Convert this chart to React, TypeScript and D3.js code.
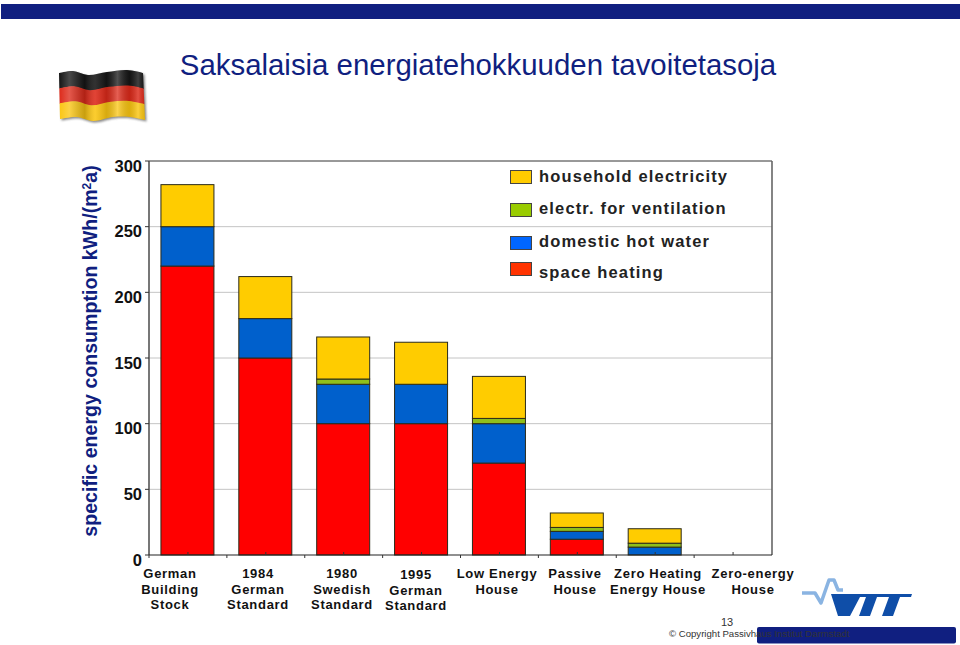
import React from "react";
import * as d3 from "d3";

const categories = [
  ["German", "Building", "Stock"],
  ["1984", "German", "Standard"],
  ["1980", "Swedish", "Standard"],
  ["1995", "German", "Standard"],
  ["Low Energy", "House"],
  ["Passive", "House"],
  ["Zero Heating", "Energy House"],
  ["Zero-energy", "House"],
];
const labelX = [170, 258, 342, 416, 497, 575, 658, 753];
const labelY = [578, 578, 578, 579, 578, 578, 578, 578];
const spaceHeating = [220, 150, 100, 100, 70, 12, 0, 0];
const hotWater = [30, 30, 30, 30, 30, 6, 6, 0];
const ventilation = [0, 0, 4, 0, 4, 3, 3, 0];
const household = [32, 32, 32, 32, 32, 11, 11, 0];
const yTicks = [0, 50, 100, 150, 200, 250, 300];
const seriesKeys = ["space", "water", "vent", "house"];
const seriesColors = ["#ff0000", "#0060cc", "#8fbf1a", "#ffcc00"];
const legendItems = [
  { label: "household electricity", color: "#ffcc00", y: 177, textY: 182 },
  { label: "electr. for ventilation", color: "#99cc00", y: 210, textY: 214 },
  { label: "domestic hot water", color: "#0066ff", y: 243, textY: 247 },
  { label: "space heating", color: "#ff3300", y: 269, textY: 278 },
];

const NAVY = "#101f80";
const x = d3.scaleBand<number>().domain(d3.range(8)).range([149, 772]).paddingInner(0).paddingOuter(0);
const y = d3.scaleLinear().domain([0, 300]).range([555, 161]);
const rows = categories.map((_, i) => ({
  i,
  space: spaceHeating[i],
  water: hotWater[i],
  vent: ventilation[i],
  house: household[i],
}));
const stacked = d3.stack<any>().keys(seriesKeys)(rows);
const barW = 53;
const font = "'Liberation Sans', Arial, sans-serif";

const flagTop: [number, number][] = [[59, 73], [73, 71], [88, 75], [107, 72], [127, 70], [143, 73]];
const flagBottom: [number, number][] = [[60, 119], [77, 117], [93, 121], [113, 117], [130, 117], [145, 120]];

function flagBand(t0: number, t1: number) {
  const mix = (t: number) =>
    flagTop.map((p, i): [number, number] => [
      p[0] + (flagBottom[i][0] - p[0]) * t,
      p[1] + (flagBottom[i][1] - p[1]) * t,
    ]);
  const curve = d3.line().curve(d3.curveCatmullRom);
  const a = curve(mix(t0))!;
  const b = curve(mix(t1).reverse())!;
  return `${a}L${b.slice(1)}Z`;
}

function Flag() {
  const stripes = [
    [0, "#fff", 0],
    [0.12, "#fff", 0.22],
    [0.3, "#000", 0.2],
    [0.42, "#fff", 0.12],
    [0.55, "#000", 0.14],
    [0.68, "#fff", 0.25],
    [0.82, "#000", 0.12],
    [0.92, "#fff", 0.18],
    [1, "#000", 0.1],
  ] as const;
  return (
    <g>
      <defs>
        <linearGradient id="sheen" x1="0" x2="1" y1="0" y2="0">
          {stripes.map((s, i) => (
            <stop key={i} offset={s[0]} stopColor={s[1]} stopOpacity={s[2]} />
          ))}
        </linearGradient>
        <filter id="soft" x="-10%" y="-10%" width="120%" height="120%">
          <feGaussianBlur stdDeviation="1" />
        </filter>
      </defs>
      <path d={flagBand(0, 1)} fill="#555" transform="translate(1.5,1.5)" filter="url(#soft)" opacity={0.7} />
      <path d={flagBand(0, 0.34)} fill="#161616" />
      <path d={flagBand(0.33, 0.67)} fill="#dd2a1a" />
      <path d={flagBand(0.66, 1)} fill="#fbc612" />
      <path d={flagBand(0, 1)} fill="url(#sheen)" />
    </g>
  );
}

function Logo() {
  return (
    <g>
      <path
        d="M802 593 L815 593 L821 603 L829 580 L834 580 L838 590 L843 590"
        fill="none"
        stroke="#8ab4e2"
        strokeWidth={3.5}
        strokeLinejoin="round"
      />
      <path
        d="M831 594 L912 594 L911 597 L900 597 L893 616 L882 616 L889 597 L877 597 L870 616 L859 616 L866 597 L860 597 L850 616 L838 616 Z"
        fill="#0f4ea8"
      />
    </g>
  );
}

export default function App() {
  return (
    <svg
      width={960}
      height={645}
      viewBox="0 0 960 645"
      style={{ position: "absolute", left: 0, top: 0, background: "#fff" }}
      fontFamily={font}
    >
      <rect x={1} y={4} width={959} height={15} fill={NAVY} />
      <text x={478} y={74.5} textAnchor="middle" fontSize={29.4} fill={NAVY}>
        Saksalaisia energiatehokkuuden tavoitetasoja
      </text>
      <Flag />

      <text
        transform="translate(97,351) rotate(-90)"
        textAnchor="middle"
        fontSize={19.6}
        fontWeight="bold"
        fill={NAVY}
      >
        specific energy consumption kWh/(m
        <tspan fontSize={12} dy={-6}>2</tspan>
        <tspan dy={6}>a)</tspan>
      </text>

      {yTicks.filter((t) => t > 0 && t < 300).map((t) => (
        <line key={t} x1={149} x2={772} y1={y(t)} y2={y(t)} stroke="#c4c4c4" strokeWidth={1} />
      ))}

      {stacked.map((s, k) =>
        s.map((d, i) =>
          d[1] - d[0] > 0 ? (
            <rect
              key={`${k}-${i}`}
              x={x(i)! + (x.bandwidth() - barW) / 2 - 0.5}
              y={y(d[1])}
              width={barW}
              height={y(d[0]) - y(d[1])}
              fill={seriesColors[k]}
              stroke="#2a2a1a"
              strokeWidth={1}
            />
          ) : null
        )
      )}

      <line x1={149} x2={772} y1={161} y2={161} stroke="#333" strokeWidth={1} />
      <line x1={149} x2={149} y1={161} y2={555} stroke="#555" strokeWidth={1.6} />
      <line x1={772} x2={772} y1={161} y2={555} stroke="#666" strokeWidth={1.6} />
      <line x1={149} x2={772} y1={555} y2={555} stroke="#222" strokeWidth={1.2} />
      {yTicks.map((t) => (
        <line key={t} x1={145} x2={149} y1={y(t)} y2={y(t)} stroke="#333" />
      ))}
      {d3.range(8).map((i) => (
        <g key={i} stroke="#333">
          <line x1={x(i)!} x2={x(i)!} y1={555} y2={558} />
          <line x1={x(i)! + x.bandwidth() / 2} x2={x(i)! + x.bandwidth() / 2} y1={552} y2={555} />
        </g>
      ))}

      {yTicks.map((t) => (
        <text key={t} x={142} y={y(t) + 10.5} textAnchor="end" fontSize={16.5} fontWeight="bold" fill="#111">
          {t}
        </text>
      ))}

      {categories.map((lines, i) => (
        <text key={i} textAnchor="middle" fontSize={13} fontWeight="bold" letterSpacing={0.7} fill="#111">
          {lines.map((l, j) => (
            <tspan key={j} x={labelX[i]} y={labelY[i] + j * 15.5}>
              {l}
            </tspan>
          ))}
        </text>
      ))}

      {legendItems.map((it) => (
        <g key={it.label}>
          <rect x={510.5} y={it.y - 6.5} width={21} height={13} fill={it.color} stroke="#444" strokeWidth={1} />
          <text x={539} y={it.textY} fontSize={16.5} fontWeight="bold" letterSpacing={1.15} fill="#222">
            {it.label}
          </text>
        </g>
      ))}

      <Logo />
      <rect x={757} y={627} width={199} height={16.5} rx={2} fill={NAVY} />
      <text x={727} y={626} textAnchor="middle" fontSize={11} fill="#333">13</text>
      <text x={669} y={637} fontSize={9.6} fill="#333">
        © Copyright Passivhaus Institut Darmstadt
      </text>
    </svg>
  );
}
